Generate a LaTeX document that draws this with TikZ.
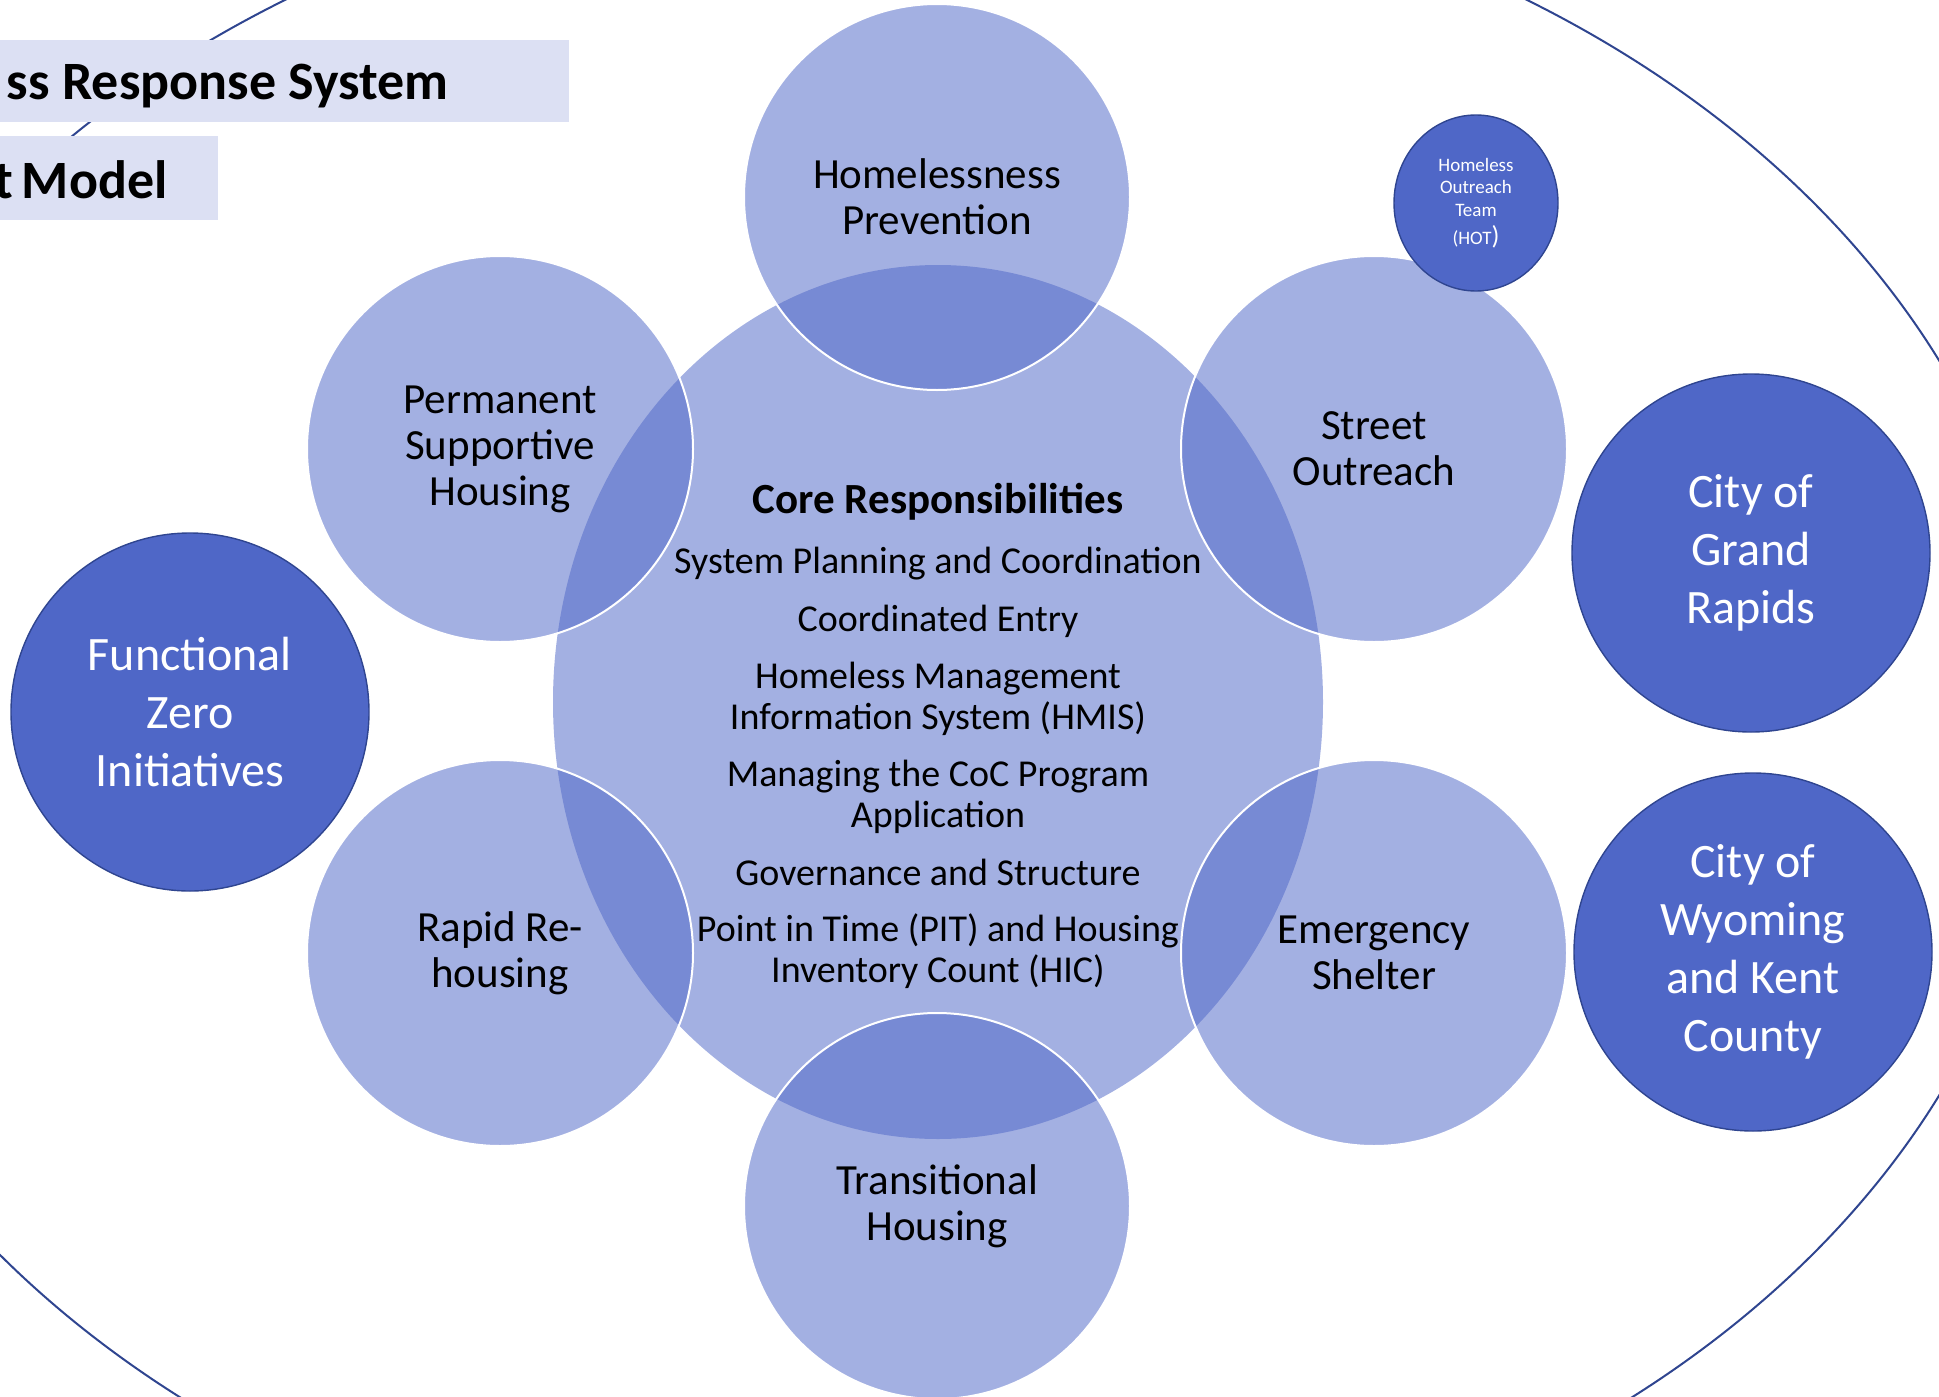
\documentclass[tikz,border=0pt]{standalone}
\usepackage{fontspec}
\setmainfont{Carlito}
\usetikzlibrary{shapes.geometric}
\definecolor{ringblue}{HTML}{2F4590}
\definecolor{discblue}{HTML}{4F67C7}
\definecolor{titlebg}{HTML}{DCE0F3}
\tikzset{
  petal/.style={circle, minimum size=193pt, inner sep=0pt, fill=discblue, fill opacity=0.52,
    text opacity=1, draw=white, line width=1pt, align=center, font=\fontsize{21.5}{23}\selectfont},
  partner/.style={circle, minimum size=179pt, inner sep=0pt, fill=discblue, draw=ringblue,
    line width=0.7pt, text=white, align=center, font=\fontsize{24}{29}\selectfont},
  duty/.style={align=center, font=\fontsize{19}{20.5}\selectfont},
  banner/.style={anchor=base east, inner sep=0pt, font=\fontsize{27}{29}\selectfont\bfseries}
}

\begin{document}
\begin{tikzpicture}[x=0.5pt, y=-0.5pt] % coordinates in pixels, y downwards
\useasboundingbox (0,0) rectangle (1939,1397);
\clip (0,0) rectangle (1939,1397);
\draw[ringblue, line width=1pt] (906,728) ellipse [x radius=570pt, y radius=434pt];
% title bars
\fill[titlebg] (0,40) rectangle (569,122);
\fill[titlebg] (0,136) rectangle (218,220);
\node[banner] (title1) at (449,99) {ss Response System};
\node[banner] (title2) at (168,198) {t\,Model};
% core and petals
\node[ellipse, minimum width=385pt, minimum height=437pt, fill=discblue, fill opacity=0.52] (core) at (938,702) {};
\node[petal] (prevention) at (937,197) {Homelessness\\Prevention};
\node[petal] (psh) at (500,449) {Permanent\\Supportive\\Housing};
\node[petal] (outreach) at (1374,449) {Street\\Outreach};
\node[petal] (rrh) at (500,953) {Rapid Re-\\housing};
\node[petal] (shelter) at (1374,953) {Emergency\\Shelter};
\node[petal] (transitional) at (937,1206) {Transitional\\Housing};
\node[duty, font=\fontsize{21.5}{23}\selectfont\bfseries] (coretitle) at (938,502) {Core Responsibilities};
\foreach \y/\txt [count=\i] in {564/System Planning and Coordination, 621/Coordinated Entry,
  699/Homeless Management\\Information System (HMIS), 797/Managing the CoC Program\\Application,
  872/Governance and Structure, 951/Point in Time (PIT) and Housing\\Inventory Count (HIC)}
  \node[duty] (duty\i) at (938,\y) {\txt};
% partners
\node[partner] (fzi) at (190,712) {Functional\\Zero\\Initiatives};
\node[partner] (grandrapids) at (1751,553) {City of\\Grand\\Rapids};
\node[partner] (wyoming) at (1753,952) {City of\\Wyoming\\and Kent\\County};
\node[partner, ellipse, minimum width=82pt, minimum height=88pt, font=\fontsize{9.5}{11.25}\selectfont] (hot) at (1476,203)
  {Homeless\\Outreach\\Team\\[3pt](HOT{\fontsize{13}{11}\selectfont)}};
\end{tikzpicture}
\end{document}
